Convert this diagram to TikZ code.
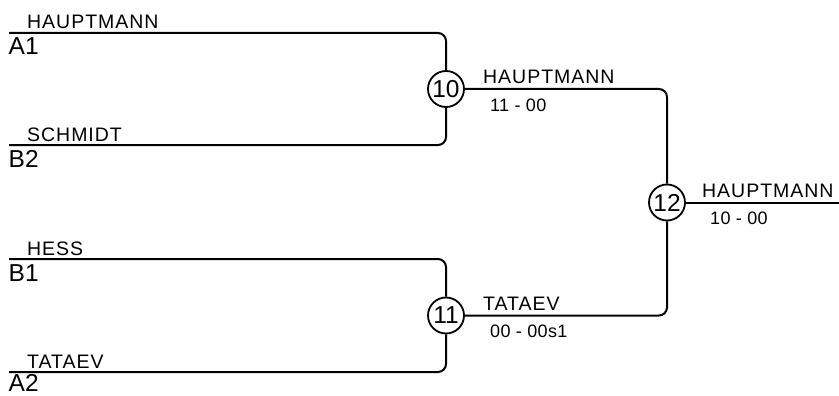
\documentclass[tikz,border=0pt]{standalone}
\usepackage{fontspec}
\setmainfont{Liberation Sans}
\newfontfamily\namefont[LetterSpace=5]{Liberation Sans}
\newfontfamily\scorefont[LetterSpace=2]{Liberation Sans}
\begin{document}
\begin{tikzpicture}[x=1pt,y=-1pt,
  wire/.style={line width=2pt, rounded corners=8pt},
  game/.style={circle, draw, line width=1.8pt, minimum size=36pt, inner sep=0pt, font=\fontsize{24.5}{24.5}\selectfont},
  pname/.style={anchor=base west, inner sep=0pt, font=\namefont\fontsize{19.5}{19.5}\selectfont},
  seed/.style={anchor=base west, inner sep=0pt, font=\fontsize{24.5}{24.5}\selectfont},
  score/.style={anchor=base west, inner sep=0pt, font=\scorefont\fontsize{18}{18}\selectfont}]
\useasboundingbox (0,0) rectangle (839,396);
% entry line starts
\coordinate (a1) at (9,33);
\coordinate (b2) at (9,145);
\coordinate (b1) at (9,259);
\coordinate (a2) at (9,372);
\coordinate (out) at (839,202.5);
% games
\node[game] (g10) at (446,89) {10};
\node[game] (g11) at (446,315.5) {11};
\node[game] (g12) at (667,202.5) {12};
% connectors
\draw[wire] (a1) -| (g10);
\draw[wire] (b2) -| (g10);
\draw[wire] (b1) -| (g11);
\draw[wire] (a2) -| (g11);
\draw[wire] (g10) -| (g12);
\draw[wire] (g11) -| (g12);
\draw[wire] (g12) -- (out);
% entry labels
\node[pname] (na1) at (27,29) {HAUPTMANN};
\node[seed] (sa1) at (8.5,55) {A1};
\node[pname] (nb2) at (27,141) {SCHMIDT};
\node[seed] (sb2) at (8.5,167) {B2};
\node[pname] (nb1) at (27,255) {HESS};
\node[seed] (sb1) at (8.5,281) {B1};
\node[pname] (na2) at (27,368) {TATAEV};
\node[seed] (sa2) at (8.5,391.5) {A2};
% winners
\node[pname] (w10) at (483,84) {HAUPTMANN};
\node[score] (s10) at (490,111) {11 - 00};
\node[pname] (w11) at (483,310.5) {TATAEV};
\node[score] (s11) at (490,337.5) {00 - 00s1};
\node[pname] (w12) at (702,197.5) {HAUPTMANN};
\node[score] (s12) at (710,224.5) {10 - 00};
\end{tikzpicture}
\end{document}
